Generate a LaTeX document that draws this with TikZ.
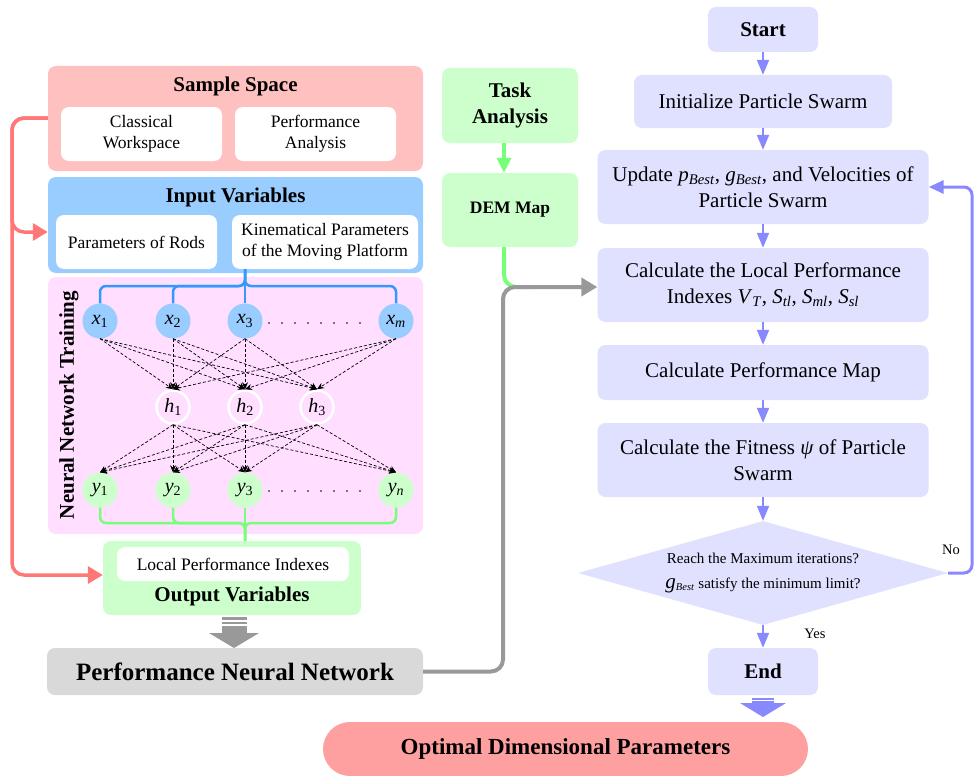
\documentclass[tikz,border=0pt]{standalone}
\usepackage{fontspec}
\setmainfont{Liberation Serif}
\usetikzlibrary{arrows.meta,shapes.geometric,calc}

\definecolor{sspink}{HTML}{FFC0C0}
\definecolor{ivblue}{HTML}{99CCFF}
\definecolor{nnpink}{HTML}{FFDEFF}
\definecolor{lgreen}{HTML}{CCFFCC}
\definecolor{pnngray}{HTML}{D9D9D9}
\definecolor{lav}{HTML}{E0E0FF}
\definecolor{optred}{HTML}{FFA0A0}
\definecolor{redline}{HTML}{FF7777}
\definecolor{blueline}{HTML}{3399FF}
\definecolor{greenline}{HTML}{77FF77}
\definecolor{purpline}{HTML}{8888FF}
\definecolor{grayline}{HTML}{999999}

\begin{document}
\begin{tikzpicture}[
  x=1pt, y=-1pt,
  wh/.style 2 args={minimum width=#1pt, minimum height=#2pt},
  panel/.style={rounded corners=8pt, inner sep=0pt, draw=none},
  whitebox/.style={panel, fill=white, align=center,
    font=\fontsize{17.5}{21}\selectfont},
  titlefont/.style={inner sep=0pt, font=\fontsize{21}{25}\selectfont\bfseries},
  flowbox/.style={panel, fill=lav, align=center,
    font=\fontsize{21}{26}\selectfont},
  neuron/.style={circle, inner sep=0pt, minimum size=35pt,
    font=\fontsize{20}{20}\selectfont},
  hidden/.style={neuron, fill=nnpink, draw=white, line width=2.5pt, minimum size=33pt},
  nnarrow/.style={densely dashed, black, line width=0.7pt,
    -{Stealth[length=7pt,width=6pt]}},
  bluecon/.style={blueline, line width=2.5pt, rounded corners=6pt},
  greencon/.style={greenline, line width=2.5pt, rounded corners=6pt},
  redcon/.style={redline, line width=3.5pt, rounded corners=12pt,
    -{Triangle[length=15pt,width=17pt]}},
  graycon/.style={grayline, line width=4pt, rounded corners=12pt},
  flowarrow/.style={purpline, line width=2pt,
    -{Triangle[length=15pt,width=12pt]}},
  loopcon/.style={purpline, line width=3pt, rounded corners=8pt,
    -{Triangle[length=15pt,width=13pt]}},
  smalllabel/.style={inner sep=0pt, font=\fontsize{14.5}{17}\selectfont}
]
\useasboundingbox (0,0) rectangle (975,776);

% ---------------- left column: data preparation ----------------
\node[panel, fill=sspink, wh={375}{105}] (ss) at (235.5,118.5) {};
\node[titlefont] (sstitle) at (235.5,86) {Sample Space};
\node[whitebox, wh={161}{54}] (cw) at (141.5,134) {Classical\\Workspace};
\node[whitebox, wh={161}{54}] (pa) at (315.5,134) {Performance\\Analysis};

\node[panel, fill=ivblue, wh={375}{96}] (iv) at (235.5,225) {};
\node[titlefont] (ivtitle) at (235.5,197) {Input Variables};
\node[whitebox, wh={161}{54}] (rods) at (136.5,242) {Parameters of Rods};
\node[whitebox, wh={186}{54}] (kin) at (325,242) {Kinematical Parameters\\of the Moving Platform};

\node[panel, fill=nnpink, wh={375}{257}] (nn) at (235.5,405.5) {};
\node[titlefont, rotate=90] (nntitle) at (69,405) {Neural Network Training};

% neurons
\node[neuron, fill=ivblue] (x1) at (100,321) {\textit{x}\textsubscript{1}};
\node[neuron, fill=ivblue] (x2) at (173,321) {\textit{x}\textsubscript{2}};
\node[neuron, fill=ivblue] (x3) at (245,321) {\textit{x}\textsubscript{3}};
\node[neuron, fill=ivblue] (xm) at (396,321) {\textit{x}\textsubscript{\textit{m}}};
\node[hidden] (h1) at (173,407) {\textit{h}\textsubscript{1}};
\node[hidden] (h2) at (245,407) {\textit{h}\textsubscript{2}};
\node[hidden] (h3) at (317,407) {\textit{h}\textsubscript{3}};
\node[neuron, fill=lgreen] (y1) at (100,490) {\textit{y}\textsubscript{1}};
\node[neuron, fill=lgreen] (y2) at (173,490) {\textit{y}\textsubscript{2}};
\node[neuron, fill=lgreen] (y3) at (245,490) {\textit{y}\textsubscript{3}};
\node[neuron, fill=lgreen] (yn) at (396,490) {\textit{y}\textsubscript{\textit{n}}};

\foreach \k in {0,...,7} {
  \fill (269+13*\k,323) circle (0.9pt);
  \fill (269+13*\k,491) circle (0.9pt);
}

\foreach \a in {x1,x2,x3,xm}
  \foreach \b in {h1,h2,h3}
    \draw[nnarrow] (\a.south) -- (\b.north);
\foreach \a in {h1,h2,h3}
  \foreach \b in {y1,y2,y3,yn}
    \draw[nnarrow] (\a.south) -- (\b.north);

% input fan-out
\coordinate (bj) at (245,286);
\draw[bluecon] (kin.south -| x3) |- (x1 |- bj) -- (x1.north);
\draw[bluecon] (kin.south -| x3) |- (x2 |- bj) -- (x2.north);
\draw[bluecon] (kin.south -| x3) |- (xm |- bj) -- (xm.north);
\draw[bluecon] (kin.south -| x3) -- (x3.north);

% output panel
\node[panel, fill=lgreen, wh={258}{74}] (ov) at (232,578) {};
\node[whitebox, wh={232}{34}] (lpi) at (233,564) {Local Performance Indexes};
\node[titlefont] (ovtitle) at (232,596) {Output Variables};

% output fan-in
\coordinate (gj) at (245,523);
\draw[greencon] (y1.south) -- (y1 |- gj) -- (gj) -- (ov.north -| y3);
\draw[greencon] (y2.south) -- (y2 |- gj) -- (gj) -- (ov.north -| y3);
\draw[greencon] (yn.south) -- (yn |- gj) -- (gj) -- (ov.north -| y3);
\draw[greencon] (y3.south) -- (ov.north -| y3);

% sample space feeds inputs and outputs
\coordinate (rl) at (12,118);
\draw[redcon] (ss.west |- rl) -- (rl) -- (12,232) -- (iv.west |- 0,232);
\draw[redcon] (ss.west |- rl) -- (rl) -- (12,575) -- (ov.west |- 0,575);

% trained network
\node[panel, fill=pnngray, wh={376}{47},
  font=\fontsize{25}{30}\selectfont\bfseries] (pnn) at (235,671.5) {Performance Neural Network};
\fill[grayline] (222,617) rectangle (247,619.5);
\fill[grayline] (222,621.5) rectangle (247,624);
\fill[grayline] (222,626) rectangle (247,633.5);
\fill[grayline] (209,633) -- (259,633) -- (234,648) -- cycle;

% ---------------- middle column ----------------
\node[panel, fill=lgreen, wh={136}{75}, align=center,
  font=\fontsize{21}{26}\selectfont\bfseries] (task) at (510,105.5) {Task\\Analysis};
\node[panel, fill=lgreen, wh={136}{74},
  font=\fontsize{17.5}{21}\selectfont\bfseries] (dem) at (510,210) {DEM Map};
\draw[greenline, line width=4pt, -{Triangle[length=15pt,width=14pt]}]
  (task.south -| 504,0) -- (dem.north -| 504,0);

% ---------------- right column: PSO ----------------
\node[flowbox, wh={110}{45}, font=\fontsize{21}{26}\selectfont\bfseries] (start) at (763,29.5) {Start};
\node[flowbox, wh={258}{53}] (init) at (763,101.5) {Initialize Particle Swarm};
\node[flowbox, wh={331}{74}] (upd) at (763,187)
  {Update \textit{p}\textsubscript{\textit{Best}}, \textit{g}\textsubscript{\textit{Best}}, and Velocities of\\Particle Swarm};
\node[flowbox, wh={331}{74}] (loc) at (763,285)
  {Calculate the Local Performance\\Indexes \textit{V}\textsubscript{\textit{T}}, \textit{S}\textsubscript{\textit{tl}}, \textit{S}\textsubscript{\textit{ml}}, \textit{S}\textsubscript{\textit{sl}}};
\node[flowbox, wh={331}{55}] (pmap) at (763,372.5) {Calculate Performance Map};
\node[flowbox, wh={331}{74}] (fit) at (763,460)
  {Calculate the Fitness \textit{ψ} of Particle\\Swarm};
\node[diamond, fill=lav, shape aspect=3.56, inner sep=0pt,
  minimum width=370pt, minimum height=104pt, align=center,
  font=\fontsize{15}{25}\selectfont] (dec) at (763,573)
  {Reach the Maximum iterations?\\{\fontsize{21}{21}\selectfont\textit{g}}\textsubscript{\textit{Best}} satisfy the minimum limit?};
\node[flowbox, wh={110}{47}, font=\fontsize{21}{26}\selectfont\bfseries] (end) at (763,671.5) {End};

\draw[flowarrow] (start.south) -- (init.north);
\draw[flowarrow] (init.south) -- (upd.north);
\draw[flowarrow] (upd.south) -- (loc.north);
\draw[flowarrow] (loc.south) -- (pmap.north);
\draw[flowarrow] (pmap.south) -- (fit.north);
\draw[flowarrow] (fit.south) -- (dec.north);
\draw[flowarrow] (dec.south) -- (end.north);
\draw[loopcon] (dec.east) -- (972,573) -- (972,187) -- (upd.east);
\node[smalllabel] (nolab) at (951,550) {No};
\node[smalllabel] (yeslab) at (815,634) {Yes};

% network and DEM map feed the performance evaluation
\draw[greenline, line width=4pt, rounded corners=12pt]
  (dem.south -| 504,0) -- (504,287) -- (530,287);
\draw[graycon, -{Triangle[length=16pt,width=18pt]}]
  (pnn.east) -- (503,671.5) -- (503,287) -- (loc.west |- 0,287);

% result
\fill[purpline] (752,698) rectangle (774,700);
\fill[purpline] (752,701) rectangle (774,703.5);
\fill[purpline] (740,703) -- (786,703) -- (763,717) -- cycle;
\node[panel, fill=optred, wh={485}{54}, rounded corners=27pt,
  font=\fontsize{23}{28}\selectfont\bfseries] (opt) at (565.5,749) {Optimal Dimensional Parameters};
\end{tikzpicture}
\end{document}
